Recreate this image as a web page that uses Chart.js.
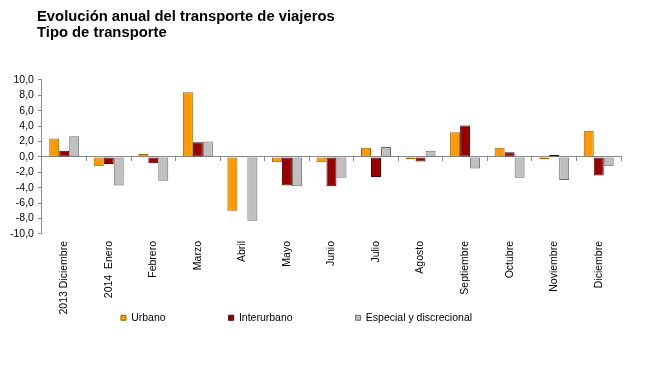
<!DOCTYPE html>
<html>
<head>
<meta charset="utf-8">
<script src="https://cdn.jsdelivr.net/npm/chart.js@4/dist/chart.umd.min.js"></script>
<style>
  html, body { margin: 0; padding: 0; background: #fff; }
  #wrap { width: 650px; height: 376px; }
</style>
</head>
<body>
<div id="wrap"><canvas id="c" width="650" height="376"></canvas></div>
<script>
const titleLines = ['Evolución anual del transporte de viajeros', 'Tipo de transporte'];
const categories = ['2013 Diciembre', '2014  Enero', 'Febrero', 'Marzo', 'Abril', 'Mayo', 'Junio',
  'Julio', 'Agosto', 'Septiembre', 'Octubre', 'Noviembre', 'Diciembre'];
const urbano      = [2.4, -1.2, 0.4, 8.4, -7.0, -0.7, -0.7, 1.2, -0.3, 3.2, 1.2, -0.3, 3.4];
const interurbano = [0.8, -0.9, -0.8, 1.9, -0.1, -3.7, -3.8, -2.6, -0.6, 4.1, 0.6, 0.3, -2.4];
const especial    = [2.7, -3.7, -3.1, 2.0, -8.3, -3.8, -2.7, 1.3, 0.8, -1.5, -2.7, -3.0, -1.2];
const seriesNames = ['Urbano', 'Interurbano', 'Especial y discrecional'];
const yMin = -10, yMax = 10, yStep = 2;

const FONT = "'Liberation Sans', Arial, sans-serif";

// small layout nudges for the title and the legend (Excel-like placement)
const nudge = {
  id: 'nudge',
  afterLayout(chart) {
    const t = chart.titleBlock;
    if (t) { t.left += 31; t.right += 31; }
    const lg = chart.legend;
    if (lg) { lg.left -= 17; lg.right -= 17; lg.top -= 72; }
  }
};

function ds(label, data, bg, border) {
  return {
    label, data,
    backgroundColor: bg,
    borderColor: border,
    borderWidth: 1,
    borderSkipped: false,
    categoryPercentage: 0.673,
    barPercentage: 1.0,
    xAxisID: 'x', yAxisID: 'y'
  };
}

new Chart(document.getElementById('c'), {
  type: 'bar',
  data: {
    labels: categories,
    datasets: [
      ds(seriesNames[0], urbano, '#FF9900', '#9C6200'),
      ds(seriesNames[1], interurbano, '#990000', '#4A0000'),
      ds(seriesNames[2], especial, '#C0C0C0', '#6A6A6A')
    ]
  },
  options: {
    responsive: false,
    animation: false,
    devicePixelRatio: 1,
    layout: { padding: { left: 6, right: 29, top: 0, bottom: 0 } },
    plugins: {
      title: {
        display: true,
        text: titleLines,
        align: 'start',
        color: '#000',
        font: { family: FONT, size: 14.8, weight: 'bold', lineHeight: 1.08 },
        padding: { top: 9, bottom: 39 }
      },
      legend: {
        display: true,
        position: 'bottom',
        maxHeight: 54.5,
        labels: {
          boxWidth: 5, boxHeight: 5,
          padding: 63,
          color: '#000',
          font: { family: FONT, size: 10.5 }
        }
      },
      tooltip: { enabled: false }
    },
    scales: {
      x: {
        type: 'category',
        position: { y: 0 },
        offset: true,
        ticks: { display: false },
        grid: { display: true, drawOnChartArea: false, drawTicks: true, tickLength: 4, offset: true, color: '#8a8a8a' },
        border: { display: true, color: '#8a8a8a', width: 1 }
      },
      x2: {
        type: 'category',
        axis: 'x',
        position: 'bottom',
        offset: true,
        labels: categories,
        grid: { display: false, drawTicks: false },
        border: { display: false },
        ticks: {
          autoSkip: false, maxRotation: 90, minRotation: 90, padding: 7,
          color: '#000', font: { family: FONT, size: 10.5 }
        }
      },
      y: {
        type: 'linear',
        min: yMin, max: yMax,
        ticks: {
          stepSize: yStep, padding: 4, color: '#000', autoSkip: false,
          font: { family: FONT, size: 10.5 },
          callback: v => v.toFixed(1).replace('.', ',')
        },
        grid: { display: true, drawOnChartArea: false, drawTicks: true, tickLength: 4, color: '#8a8a8a' },
        border: { display: true, color: '#8a8a8a', width: 1 }
      }
    }
  },
  plugins: [nudge]
});
</script>
</body>
</html>
